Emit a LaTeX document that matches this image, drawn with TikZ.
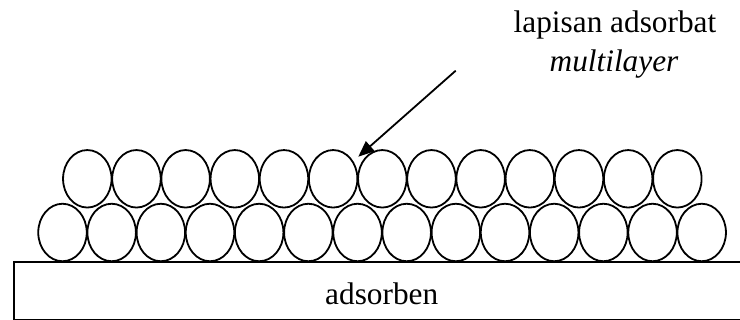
\documentclass[tikz,border=0pt]{standalone}
\usepackage{fontspec}
\setmainfont{Liberation Serif}
\usetikzlibrary{shapes.geometric,arrows.meta}
\begin{document}
\begin{tikzpicture}[x=1pt,y=-1pt,
  particle/.style={ellipse,draw,line width=1.8pt,minimum width=48.5pt,minimum height=57.5pt,inner sep=0pt},
  txt/.style={font=\fontsize{31.3}{39}\selectfont,inner sep=0pt}]
\useasboundingbox (0,0) rectangle (740,320);
\begin{scope}
\clip (0,0) rectangle (740,320);
\draw[line width=1.8pt] (760,262.3) -- (14,262.3) -- (14,319.5) -- (760,319.5);
\end{scope}
\foreach \i in {1,...,14} {
  \node[particle] (b\i) at ({62.5+49.17*(\i-1)},232.5) {};
}
\foreach \i in {1,...,13} {
  \node[particle] (t\i) at ({87.3+49.17*(\i-1)},178.8) {};
}
\node[txt,anchor=base] (sub) at (381.7,305) {adsorben};
\node[txt,anchor=base] (lab1) at (615,33) {lapisan adsorbat};
\node[txt,anchor=base] (lab2) at (614,72) {\itshape multilayer};
\coordinate (as) at (455.7,70.7);
\coordinate (ae) at (358.3,156.7);
\draw[line width=1.8pt,-{Triangle[length=16pt,width=13pt]}] (as) -- (ae);
\end{tikzpicture}
\end{document}
